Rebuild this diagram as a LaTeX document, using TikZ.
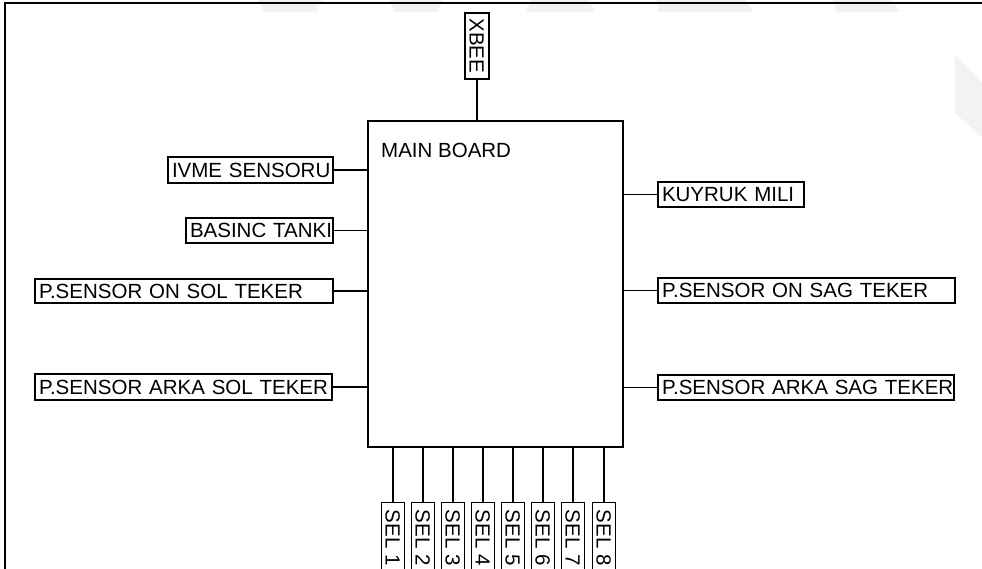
\documentclass[tikz,border=0pt]{standalone}
\usepackage{fontspec}
\setmainfont{Liberation Sans}
\begin{document}
\begin{tikzpicture}[x=1pt,y=-1pt,
  txt/.style={font=\fontsize{20.5}{24}\selectfont},
  box/.style={txt, draw, line width=1.3pt, inner xsep=4pt, inner ysep=0pt,
    text height=14.7pt, text depth=0pt, align=left},
  vbox/.style={txt, draw, line width=1.3pt, inner sep=0pt, rotate=-90,
    text height=14.7pt, text depth=0pt},
  link/.style={line width=1.3pt},
  wm/.style={fill=black!5, draw=none}]
\useasboundingbox (0,0) rectangle (982,569);
% faint watermark shapes
\fill[wm] (258,0) -- (322,0) -- (316,12) -- (264,12) -- cycle;
\fill[wm] (390,0) -- (442,0) -- (438,12) -- (394,12) -- cycle;
\fill[wm] (530,0) -- (590,0) -- (594,12) -- (526,12) -- cycle;
\fill[wm] (656,0) -- (746,0) -- (753,12) -- (658,12) -- cycle;
\fill[wm] (833,0) -- (892,0) -- (900,12) -- (836,12) -- cycle;
\fill[wm] (955,55) -- (982,83) -- (982,137) -- (955,113) -- cycle;
% frame
\draw[line width=2pt] (5,572) -- (5,3) -- (985,3);
% main board
\node[draw, line width=1.3pt, minimum width=255pt, minimum height=326pt, inner sep=0pt] (mb) at (495.5,284) {};
\node[txt, anchor=base west, inner sep=0pt] (mbt) at (381,158) {MAIN BOARD};
% top
\node[vbox, minimum width=66pt, minimum height=24pt] (xbee) at (477,46) {XBEE};
\draw[link] (xbee.east) -- (xbee.east |- mb.north);
% left side
\node[box, text width=157pt, minimum height=26pt] (ivme) at (250.5,170) {\mbox{IVME SENSORU}};
\node[box, text width=139pt, minimum height=25pt] (basinc) at (259.5,230.5) {\mbox{BASINC TANKI}};
\node[box, text width=290pt, minimum height=24pt] (onsol) at (184,291) {\mbox{P.SENSOR ON SOL TEKER}};
\node[box, text width=289pt, minimum height=26pt] (arkasol) at (183.5,387) {\mbox{P.SENSOR ARKA SOL TEKER}};
\foreach \n in {ivme,basinc,onsol,arkasol}
  \draw[link] (\n.east) -- (\n.east -| mb.west);
% right side
\node[box, text width=138pt, minimum height=25pt] (kuyruk) at (731,194.5) {\mbox{KUYRUK MILI}};
\node[box, text width=289pt, minimum height=25pt] (onsag) at (806.5,290.5) {\mbox{P.SENSOR ON SAG TEKER}};
\node[box, text width=288pt, minimum height=25pt] (arkasag) at (806,387.5) {\mbox{P.SENSOR ARKA SAG TEKER}};
\foreach \n in {kuyruk,onsag,arkasag}
  \draw[link] (\n.west) -- (\n.west -| mb.east);
% bottom selectors
\foreach \i/\x in {1/393,2/423,3/453,4/483,5/513,6/543,7/573,8/604} {
  \node[vbox, minimum width=70pt, minimum height=23pt, anchor=west] (sel\i) at (\x,502) {SEL \i};
  \draw[link] (sel\i.west) -- (sel\i.west |- mb.south);
}
\end{tikzpicture}
\end{document}
